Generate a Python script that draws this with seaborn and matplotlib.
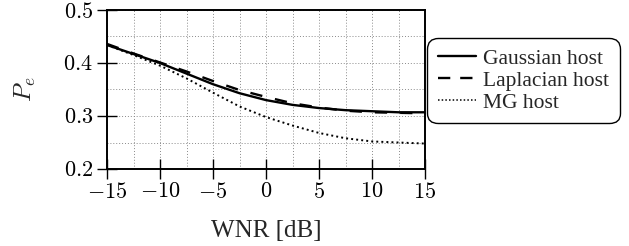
import numpy as np
import pandas as pd
import matplotlib
matplotlib.use("Agg")
import matplotlib.pyplot as plt
import seaborn as sns
from matplotlib.ticker import MultipleLocator
from matplotlib.lines import Line2D

wnr = [-15, -12.5, -10, -7.5, -5, -2.5, 0, 2.5, 5, 7.5, 10, 12.5, 15]
gaussian = [0.434, 0.417, 0.400, 0.380, 0.360, 0.343, 0.330, 0.321, 0.315, 0.311, 0.309, 0.307, 0.307]
laplacian = [0.436, 0.418, 0.401, 0.384, 0.366, 0.349, 0.336, 0.324, 0.316, 0.310, 0.307, 0.306, 0.305]
mg = [0.434, 0.415, 0.395, 0.371, 0.344, 0.318, 0.298, 0.282, 0.268, 0.258, 0.252, 0.250, 0.248]
series_names = ["Gaussian host", "Laplacian host", "MG host"]
xticks = [-15, -10, -5, 0, 5, 10, 15]
yticks = [0.2, 0.3, 0.4, 0.5]

df = pd.concat([
    pd.DataFrame({"WNR": wnr, "Pe": vals, "host": name})
    for name, vals in zip(series_names, [gaussian, laplacian, mg])
])

sns.set_style("ticks")
plt.rcParams["mathtext.fontset"] = "cm"
plt.rcParams["font.family"] = ["Liberation Serif", "DejaVu Serif"]

fig = plt.figure(figsize=(6.29, 2.46), dpi=100)
ax = fig.add_axes([107/629, 1 - 169/246, (425-107)/629, (169-10)/246])

lw_main = 1.7
lw_dot = 1.4
sns.lineplot(data=df, x="WNR", y="Pe", hue="host", style="host",
             palette=["black", "black", "black"],
             dashes={"Gaussian host": "", "Laplacian host": (5.2, 5.5), "MG host": (1, 1.6)},
             ax=ax, legend=False, zorder=3)
lw = {"Gaussian host": lw_main, "Laplacian host": lw_main, "MG host": lw_dot}
for line, name in zip(ax.get_lines(), series_names):
    line.set_linewidth(lw[name])

ax.set_xlim(-15, 15)
ax.set_ylim(0.2, 0.5)
ax.set_xticks(xticks)
ax.set_xticklabels([f"${t}$" for t in xticks])
ax.set_yticks(yticks)
ax.set_yticklabels([f"${t:.1f}$" for t in yticks])
ax.xaxis.set_minor_locator(MultipleLocator(2.5))
ax.yaxis.set_minor_locator(MultipleLocator(0.05))
ax.grid(True, which="both", linestyle=(0, (1, 2)), color="#8a8a8a", linewidth=0.7, zorder=0)
ax.set_axisbelow(True)
ax.tick_params(which="major", direction="inout", length=14, width=1.0,
               labelsize=16, pad=3, colors="black")
ax.tick_params(which="minor", length=0)
for s in ax.spines.values():
    s.set_linewidth(1.4)
    s.set_color("black")

ax.set_xlabel("WNR [dB]", fontsize=18, labelpad=12)
ax.set_ylabel("$P_e$", fontsize=18, labelpad=18)

handles = [Line2D([], [], color="black", lw=lw_main),
           Line2D([], [], color="black", lw=lw_main, dashes=(5.2, 4.2)),
           Line2D([], [], color="black", lw=1.1, dashes=(1, 1.4))]
leg = ax.legend(handles, series_names, loc="center left", bbox_to_anchor=(1.0, 0.555),
                fontsize=15.5, frameon=True, fancybox=True, edgecolor="black",
                handlelength=1.75, handletextpad=0.35, labelspacing=0.08,
                borderpad=0.5, borderaxespad=0.1, framealpha=1)
leg.get_frame().set_linewidth(1.0)
leg.get_frame().set_boxstyle("round", pad=0, rounding_size=0.5)

fig.savefig("out.png", dpi=100)
